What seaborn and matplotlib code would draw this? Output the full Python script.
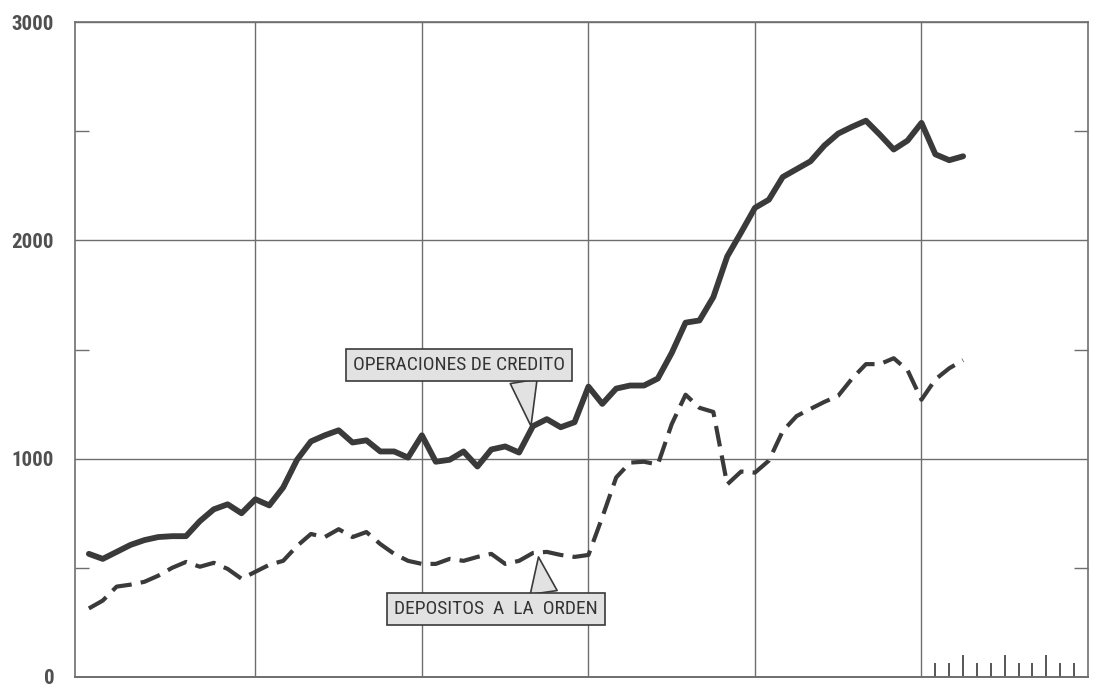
import numpy as np
import pandas as pd
import seaborn as sns
import matplotlib.pyplot as plt
from matplotlib import font_manager

# months counted from the first year gridline (0); one point per month
months = list(range(-12, 52))

credito = [564, 541, 573, 605, 627, 641, 645, 645, 714, 768, 791, 750,
           814, 786, 868, 995, 1079, 1107, 1130, 1074, 1084, 1033, 1033, 1005,
           1107, 986, 995, 1033, 964, 1042, 1056, 1028, 1149, 1181, 1144, 1167,
           1330, 1251, 1321, 1335, 1335, 1367, 1484, 1623, 1633, 1740, 1926, 2036,
           2149, 2186, 2290, 2326, 2362, 2434, 2489, 2520, 2548, 2484, 2416, 2457,
           2538, 2394, 2367, 2385]

depositos = [314, 350, 414, 423, 436, 464, 500, 527, 505, 523, 495, 450,
             482, 514, 532, 600, 655, 641, 677, 641, 664, 609, 564, 532,
             518, 518, 541, 532, 550, 564, 518, 532, 568, 573, 559, 550,
             559, 732, 914, 982, 986, 973, 1158, 1293, 1233, 1214, 882, 941,
             936, 991, 1126, 1195, 1228, 1260, 1288, 1367, 1433, 1433, 1460, 1405,
             1270, 1363, 1414, 1451]

y_ticks = [0, 1000, 2000, 3000]
y_minor = [500, 1500, 2500]
year_marks = [0, 12, 24, 36, 48]
month_marks = [49, 50, 52, 53, 55, 56, 58, 59]
quarter_marks = [51, 54, 57]

df = pd.DataFrame({"mes": months, "credito": credito, "depositos": depositos})

sns.set_theme(style="white")
plt.rcParams["font.family"] = ["DejaVu Sans"]

# a condensed face if one is around, else plain DejaVu
names = {f.name for f in font_manager.fontManager.ttflist}
stretch = "condensed"
for cand in ["Liberation Sans Narrow", "Roboto Condensed", "Open Sans Condensed",
             "Noto Sans Condensed", "DejaVu Sans Condensed"]:
    if cand in names:
        plt.rcParams["font.family"] = [cand, "DejaVu Sans"]
        break

ink = "#3a3a3a"
grid_c = "#6e6e6e"
box_fc = "#e2e2e2"

fig = plt.figure(figsize=(10.93, 6.89), dpi=100)
ax = fig.add_axes([75 / 1093, 1 - 677 / 689, (1088 - 75) / 1093, (677 - 22) / 689])

sns.lineplot(data=df, x="mes", y="credito", ax=ax, color=ink, linewidth=4.2,
             solid_joinstyle="round", zorder=3)
sns.lineplot(data=df, x="mes", y="depositos", ax=ax, color=ink, linewidth=3.0,
             linestyle=(0, (5, 2.2)), dash_joinstyle="round", zorder=3)

ax.set_xlim(-13, 60)
ax.set_ylim(0, 3000)
ax.set_xlabel("")
ax.set_ylabel("")

ax.set_xticks(year_marks)
ax.set_xticks(month_marks, minor=True)
ax.set_yticks(y_ticks)
ax.set_yticks(y_minor, minor=True)
ax.set_xticklabels([])
ax.set_yticklabels([str(v) for v in y_ticks], fontstretch=stretch,
                   fontweight="bold")

ax.grid(True, which="major", color=grid_c, linewidth=1.0)
ax.tick_params(axis="both", which="major", length=0)
ax.tick_params(axis="y", which="major", labelsize=15, labelcolor="#505050", pad=15)
ax.tick_params(axis="y", which="minor", left=True, right=True, direction="in",
               length=10, width=1.0, color=grid_c)
ax.tick_params(axis="x", which="minor", bottom=True, direction="in",
               length=10, width=1.2, color=ink)

sec = ax.secondary_xaxis("bottom")
sec.set_xticks(quarter_marks)
sec.set_xticklabels([])
sec.tick_params(direction="in", length=16, width=1.2, color=ink)
sec.spines["bottom"].set_color(grid_c)

for s in ax.spines.values():
    s.set_color(grid_c)
    s.set_linewidth(1.2)

label_kw = dict(ha="center", va="center", fontsize=14, color="#333333",
                fontstretch=stretch,
                bbox=dict(boxstyle="square,pad=0.36", fc=box_fc, ec=ink, lw=1.2),
                zorder=5)

ax.annotate("OPERACIONES DE CREDITO", xy=(19.86, 1149), xytext=(14.66, 1430),
            arrowprops=dict(arrowstyle="wedge,tail_width=1.4,shrink_factor=0.5",
                            fc=box_fc, ec=ink, lw=1.2, relpos=(0.8, 0),
                            shrinkA=0, shrinkB=0),
            **label_kw)
ax.annotate("DEPOSITOS  A  LA  ORDEN", xy=(20.4, 550), xytext=(17.33, 311),
            arrowprops=dict(arrowstyle="wedge,tail_width=1.4,shrink_factor=0.5",
                            fc=box_fc, ec=ink, lw=1.2, relpos=(0.74, 1),
                            shrinkA=0, shrinkB=0),
            **label_kw)

fig.savefig("out.png", dpi=100)
